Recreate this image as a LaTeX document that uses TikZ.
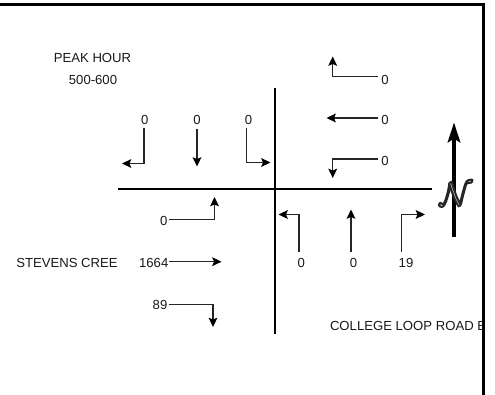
\documentclass[tikz,border=0pt]{standalone}
\usepackage{fontspec}
\setmainfont{Liberation Sans}
\usetikzlibrary{arrows.meta}
\tikzset{
  x=.75pt,y=-.75pt,
  lab/.style={inner sep=0pt,outer sep=0pt,font=\fontsize{9.85pt}{11pt}\selectfont,text=black!90},
  arr/.style={line width=.82pt,draw=black!85,-{Stealth[length=7pt,width=6.6pt,inset=1.4pt,color=black]}},
  road/.style={line width=1.6pt,draw=black},
  frame/.style={line width=2.4pt,draw=black},
  northarrow/.style={line width=2.4pt,draw=black,-{Stealth[length=15pt,width=9.5pt,inset=3pt]}}
}
\begin{document}
\begin{tikzpicture}
\useasboundingbox (0,0) rectangle (495,395);
\fill[white] (0,0) rectangle (495,395);
% titles
\node[lab] (peak) at (92.5,57.5) {PEAK HOUR};
\node[lab] (time) at (93,79.5) {500-600};
\node[lab] (stevens) at (67,263.3) {STEVENS CREE};
\begin{scope}
\clip (0,0) rectangle (482,395);
\node[lab,anchor=west] (college) at (330,325.7) {COLLEGE LOOP ROAD E};
\end{scope}
% roads
\coordinate (rw) at (118,188.7);
\coordinate (re) at (432,188.7);
\coordinate (rn) at (275,88);
\coordinate (rs) at (275,334);
\draw[road] (rw) -- (re);
\draw[road] (rn) -- (rs);
% north approach
\node[lab] (n1) at (144.7,119.5) {0};
\node[lab] (n2) at (197,119.5) {0};
\node[lab] (n3) at (248.5,119.5) {0};
\coordinate (tn1) at (122,163.5);
\coordinate (tn2) at (197,166.5);
\coordinate (tn3) at (270.5,162.5);
\draw[arr] ([shift={(-.7,8.2)}]n1.center) |- (tn1);
\draw[arr] ([shift={(0,9.5)}]n2.center) -- (tn2);
\draw[arr] ([shift={(-2,8.2)}]n3.center) |- (tn3);
% east approach
\node[lab] (e1) at (385,79.5) {0};
\node[lab] (e2) at (385,119.5) {0};
\node[lab] (e3) at (385,160.5) {0};
\coordinate (te1) at (332.7,56.5);
\coordinate (te2) at (326.5,118);
\coordinate (te3) at (332.7,178);
\draw[arr] ([shift={(-6.7,-3)}]e1.center) -| (te1);
\draw[arr] ([shift={(-6.7,-1.5)}]e2.center) -- (te2);
\draw[arr] ([shift={(-6.7,-1.5)}]e3.center) -| (te3);
% south approach
\node[lab] (s1) at (301.3,263.3) {0};
\node[lab] (s2) at (353.5,263.3) {0};
\node[lab] (s3) at (406,263.3) {19};
\coordinate (ts1) at (278.5,214.5);
\coordinate (ts2) at (351,209.5);
\coordinate (ts3) at (425,214.5);
\draw[arr] ([shift={(-2.3,-11.6)}]s1.center) |- (ts1);
\draw[arr] ([shift={(-2.5,-11.6)}]s2.center) -- (ts2);
\draw[arr] ([shift={(-4.5,-11.6)}]s3.center) |- (ts3);
% west approach
\node[lab] (w1) at (163.7,220.7) {0};
\node[lab] (w2) at (153.7,263.3) {1664};
\node[lab] (w3) at (160,305.3) {89};
\coordinate (tw1) at (214.5,197);
\coordinate (tw2) at (221.5,261.7);
\coordinate (tw3) at (213,327);
\draw[arr] ([shift={(5.3,-1.4)}]w1.center) -| (tw1);
\draw[arr] ([shift={(15.3,-1.6)}]w2.center) -- (tw2);
\draw[arr] ([shift={(9,-.6)}]w3.center) -| (tw3);
% north arrow
\coordinate (na) at (454,237);
\coordinate (nb) at (454,122.5);
\draw[northarrow] (na) -- (nb);
\node[inner sep=0pt] (nsym) at (456,194) {\special{pdf:code 2 Tr 1.5 w 0.85 g 0.15 G}\fontsize{36pt}{36pt}\selectfont$\mathcal{N}$\special{pdf:code 0 Tr 0 w 0 g 0 G}};
% frame
\coordinate (f1) at (0,4.7);
\coordinate (f2) at (483.5,4.7);
\coordinate (f3) at (483.5,395);
\draw[frame] (f1) -- (f2) -- (f3);
\end{tikzpicture}
\end{document}
